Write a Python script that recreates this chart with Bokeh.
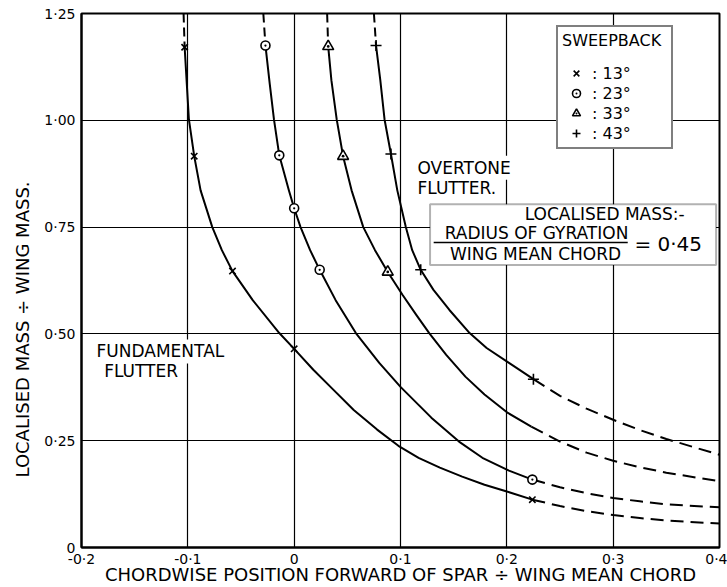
from bokeh.plotting import figure
from bokeh.models import Range1d, FixedTicker, BoxAnnotation, Label, Legend, LegendItem, Title
from bokeh.embed import file_html
from bokeh.resources import INLINE

FONT = "DejaVu Sans"

# axis ticks and their drafting-style labels
x_ticks = [-0.2, -0.1, 0.0, 0.1, 0.2, 0.3, 0.4]
x_tick_labels = ["-0·2", "-0·1", "0", "0·1", "0·2", "0·3", "0·4"]
y_ticks = [0.0, 0.25, 0.5, 0.75, 1.0, 1.25]
y_tick_labels = ["0", "0·25", "0·50", "0·75", "1·00", "1·25"]

sweep_labels = [": 13°", ": 23°", ": 33°", ": 43°"]

# flutter boundaries, solid (established) part of each curve
x13 = [-0.103, -0.101, -0.099, -0.094, -0.088, -0.077, -0.068, -0.058, -0.039, -0.014,
       0.000, 0.018, 0.037, 0.056, 0.078, 0.098, 0.117, 0.137, 0.158, 0.179, 0.200, 0.224]
y13 = [1.171, 1.086, 1.002, 0.916, 0.836, 0.750, 0.696, 0.647, 0.579, 0.502,
       0.465, 0.416, 0.369, 0.322, 0.276, 0.238, 0.210, 0.187, 0.166, 0.147, 0.131, 0.112]
x23 = [-0.027, -0.023, -0.019, -0.014, -0.005, 0.000, 0.006, 0.015, 0.024, 0.039,
       0.058, 0.080, 0.100, 0.129, 0.155, 0.177, 0.202, 0.224]
y23 = [1.175, 1.086, 1.002, 0.918, 0.836, 0.794, 0.750, 0.696, 0.650, 0.579,
       0.502, 0.432, 0.376, 0.304, 0.248, 0.210, 0.180, 0.159]
x33 = [0.032, 0.035, 0.040, 0.046, 0.054, 0.065, 0.076, 0.088, 0.102, 0.115,
       0.127, 0.143, 0.161, 0.179, 0.201, 0.223]
y33 = [1.173, 1.094, 1.002, 0.916, 0.836, 0.750, 0.696, 0.645, 0.591, 0.544,
       0.502, 0.451, 0.400, 0.358, 0.315, 0.283]
x43 = [0.077, 0.081, 0.085, 0.091, 0.097, 0.105, 0.111, 0.119, 0.131, 0.146,
       0.165, 0.181, 0.202, 0.213, 0.225]
y43 = [1.175, 1.094, 1.002, 0.921, 0.836, 0.750, 0.696, 0.650, 0.603, 0.556,
       0.502, 0.467, 0.432, 0.414, 0.394]

# dashed extrapolation towards large localised mass
top13_x, top13_y = [-0.104, -0.103], [1.25, 1.171]
top23_x, top23_y = [-0.029, -0.027], [1.25, 1.175]
top33_x, top33_y = [0.031, 0.032], [1.25, 1.173]
top43_x, top43_y = [0.075, 0.077], [1.25, 1.175]

# dashed extrapolation towards small localised mass
tail13_x = [0.224, 0.25, 0.275, 0.3, 0.325, 0.35, 0.4]
tail13_y = [0.112, 0.097, 0.085, 0.076, 0.069, 0.063, 0.056]
tail23_x = [0.224, 0.25, 0.275, 0.3, 0.325, 0.35, 0.4]
tail23_y = [0.159, 0.141, 0.127, 0.116, 0.108, 0.101, 0.094]
tail33_x = [0.223, 0.25, 0.275, 0.3, 0.325, 0.35, 0.4]
tail33_y = [0.283, 0.248, 0.222, 0.203, 0.188, 0.175, 0.155]
tail43_x = [0.225, 0.25, 0.275, 0.3, 0.325, 0.35, 0.4]
tail43_y = [0.394, 0.355, 0.325, 0.299, 0.275, 0.254, 0.217]

# calculated points
pt13_x = [-0.103, -0.094, -0.058, 0.000, 0.224]
pt13_y = [1.171, 0.916, 0.647, 0.465, 0.112]
pt23_x = [-0.027, -0.014, 0.000, 0.024, 0.224]
pt23_y = [1.175, 0.918, 0.794, 0.650, 0.159]
pt33_x = [0.032, 0.046, 0.088]
pt33_y = [1.173, 0.916, 0.645]
pt43_x = [0.077, 0.091, 0.119, 0.225]
pt43_y = [1.175, 0.921, 0.650, 0.394]

p = figure(width=727, height=587, title=None,
           x_range=Range1d(-0.2, 0.4), y_range=Range1d(0, 1.25),
           output_backend="svg", toolbar_location=None,
           min_border_left=78, min_border_right=8, min_border_top=13, min_border_bottom=39)
p.background_fill_color = "white"
p.border_fill_color = "white"
p.outline_line_color = "black"
p.outline_line_width = 2

# axes
p.xaxis.ticker = FixedTicker(ticks=x_ticks)
p.yaxis.ticker = FixedTicker(ticks=y_ticks)
p.xaxis.major_label_overrides = dict(zip(x_ticks, x_tick_labels))
p.yaxis.major_label_overrides = dict(zip(y_ticks, y_tick_labels))
for ax in (p.xaxis[0], p.yaxis[0]):
    ax.axis_line_color = "black"
    ax.axis_line_width = 2
    ax.major_tick_line_color = None
    ax.minor_tick_line_color = None
    ax.major_tick_out = 0
    ax.major_tick_in = 0
    ax.minor_tick_out = 0
    ax.minor_tick_in = 0
    ax.major_label_text_font = FONT
    ax.major_label_text_font_size = "14px"
    ax.major_label_text_color = "black"
p.xaxis.major_label_standoff = 3
p.yaxis.major_label_standoff = 6
p.xaxis.axis_label = "CHORDWISE POSITION FORWARD OF SPAR ÷ WING MEAN CHORD"
p.xaxis.axis_label_text_font = FONT
p.xaxis.axis_label_text_font_size = "18px"
p.xaxis.axis_label_text_font_style = "normal"
p.xaxis.axis_label_text_color = "black"
p.xaxis.axis_label_standoff = -6

# vertical axis title, set low on the left margin
p.add_layout(Title(text="LOCALISED MASS ÷ WING MASS.", align="left", offset=70,
                   standoff=18, text_font=FONT, text_font_size="18px",
                   text_font_style="normal", text_color="black"), "left")

# grid
p.xgrid.ticker = FixedTicker(ticks=x_ticks)
p.ygrid.ticker = FixedTicker(ticks=y_ticks)
for g in (p.xgrid[0], p.ygrid[0]):
    g.grid_line_color = "black"
    g.grid_line_width = 1.2
    g.grid_line_alpha = 1.0

# curves
curves = [
    (x13, y13, top13_x, top13_y, tail13_x, tail13_y),
    (x23, y23, top23_x, top23_y, tail23_x, tail23_y),
    (x33, y33, top33_x, top33_y, tail33_x, tail33_y),
    (x43, y43, top43_x, top43_y, tail43_x, tail43_y),
]
for xs, ys, tx, ty, ex, ey in curves:
    p.line(xs, ys, line_color="black", line_width=2, line_join="round")
    p.line(tx, ty, line_color="black", line_width=2, line_dash="9 5")
    p.line(ex, ey, line_color="black", line_width=2, line_dash="13 7", line_join="round")

r13 = p.scatter(pt13_x, pt13_y, marker="x", size=9, line_color="black", line_width=1.6)
r23 = p.scatter(pt23_x, pt23_y, marker="circle_dot", size=9, line_color="black",
                fill_color="white", line_width=1.6)
r33 = p.scatter(pt33_x, pt33_y, marker="triangle_dot", size=11, line_color="black",
                fill_color="white", line_width=1.6)
r43 = p.scatter(pt43_x, pt43_y, marker="cross", size=11, line_color="black", line_width=1.6)

legend = Legend(
    items=[LegendItem(label=lab, renderers=[r]) for lab, r in zip(sweep_labels, [r13, r23, r33, r43])],
    location=(475, 398), title="SWEEPBACK",
    title_text_font=FONT, title_text_font_size="16px", title_text_font_style="normal",
    title_text_color="black", title_standoff=13,
    label_text_font=FONT, label_text_font_size="16px", label_text_color="black",
    glyph_width=28, glyph_height=20, label_height=20, label_width=75, label_standoff=2,
    spacing=0, padding=4, margin=0,
    border_line_color="black", border_line_width=2,
    background_fill_color="white", background_fill_alpha=1.0,
)
p.add_layout(legend)

# flutter regime labels
label_style = dict(text_font=FONT, text_font_size="17px", text_color="black",
                   text_baseline="middle", background_fill_color="white", padding=2)
p.add_layout(Label(x=0.1141, y=0.889, text="OVERTONE", **label_style))
p.add_layout(Label(x=0.1141, y=0.842, text="FLUTTER.", **label_style))
p.add_layout(Label(x=-0.1877, y=0.459, text="FUNDAMENTAL", **label_style))
p.add_layout(Label(x=-0.1806, y=0.413, text="FLUTTER", **label_style))

# localised mass note
p.add_layout(BoxAnnotation(left=0.1278, right=0.3968, bottom=0.661, top=0.8037,
                           fill_color="white", fill_alpha=1.0,
                           line_color="black", line_width=2))
note_style = dict(text_font=FONT, text_font_size="17px", text_color="black",
                  text_baseline="middle", text_align="center")
p.add_layout(Label(x=0.2920, y=0.780, text="LOCALISED MASS:-", **note_style))
p.add_layout(Label(x=0.2279, y=0.737, text="RADIUS OF GYRATION", **note_style))
p.add_layout(Label(x=0.2270, y=0.687, text="WING MEAN CHORD", **note_style))
p.add_layout(BoxAnnotation(left=0.1312, right=0.3137, bottom=0.7122, top=0.7158,
                           fill_color="black", fill_alpha=1.0, line_color=None))
p.add_layout(Label(x=0.3518, y=0.7114, text="= 0·45", text_font=FONT, text_font_size="20px",
                   text_color="black", text_baseline="middle", text_align="center"))

open("out.html", "w").write(file_html(p, INLINE))
